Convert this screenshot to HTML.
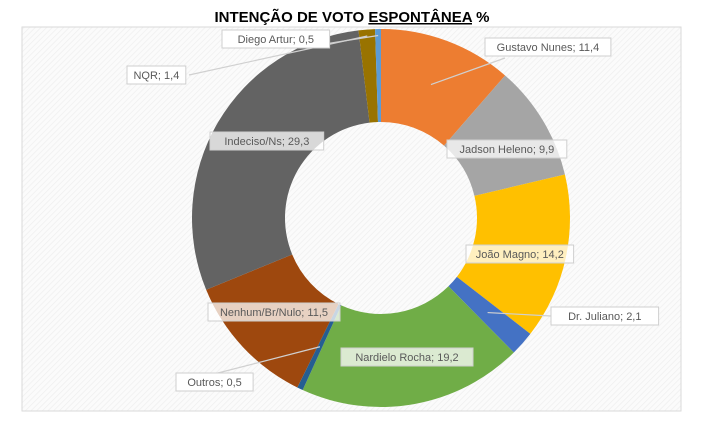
<!DOCTYPE html>
<html><head><meta charset="utf-8"><style>
body{margin:0;width:704px;height:428px;background:#fff;overflow:hidden;font-family:"Liberation Sans",sans-serif}
</style></head><body>
<svg width="704" height="428">
<defs><pattern id="hatch" width="4" height="4" patternUnits="userSpaceOnUse" patternTransform="rotate(45)"><rect width="4" height="4" fill="#fbfbfb"/><line x1="0" y1="0" x2="0" y2="4" stroke="#efefef" stroke-width="1.5"/></pattern></defs>
<rect x="22" y="27" width="659" height="384" fill="url(#hatch)" stroke="#d9d9d9"/>
<text x="352" y="22" text-anchor="middle" font-size="15" font-weight="bold" fill="#000">INTENÇÃO DE VOTO <tspan text-decoration="underline">ESPONTÂNEA</tspan>   %</text>
<g id="slices"></g>
<g id="labels"></g>
</svg>
<script>
const categories=["Gustavo Nunes","Jadson Heleno","João Magno","Dr. Juliano","Nardielo Rocha","Outros","Nenhum/Br/Nulo","Indeciso/Ns","NQR","Diego Artur"];
const values=[11.4,9.9,14.2,2.1,19.2,0.5,11.5,29.3,1.4,0.5];
const valueLabels=["11,4","9,9","14,2","2,1","19,2","0,5","11,5","29,3","1,4","0,5"];
const colors=["#ED7D31","#A5A5A5","#FFC000","#4472C4","#70AD47","#255E91","#9E480E","#636363","#997300","#5B9BD5"];
const cx=381,cy=218,R=189,r=96;
const NS="http://www.w3.org/2000/svg";
const total=values.reduce((a,b)=>a+b,0);
function pt(a,rad){return [cx+rad*Math.sin(a),cy-rad*Math.cos(a)];}
const gs=document.getElementById('slices'),gl=document.getElementById('labels');
let acc=0;const mids=[];
values.forEach((v,i)=>{
 const a0=acc/total*2*Math.PI;acc+=v;const a1=acc/total*2*Math.PI;
 mids.push((a0+a1)/2);
 const [x0,y0]=pt(a0,R),[x1,y1]=pt(a1,R),[x2,y2]=pt(a1,r),[x3,y3]=pt(a0,r);
 const lg=(a1-a0)>Math.PI?1:0;
 const p=document.createElementNS(NS,'path');
 p.setAttribute('d',`M${x0},${y0}A${R},${R} 0 ${lg} 1 ${x1},${y1}L${x2},${y2}A${r},${r} 0 ${lg} 0 ${x3},${y3}Z`);
 p.setAttribute('fill',colors[i]);
 
 
 gs.appendChild(p);
});
// label box positions (layout only)
const boxes=[[485,38,'o'],[447,140,'i'],[466,245,'i'],[551,307,'o'],[341,348,'i'],[176,373,'o'],[208,303,'i'],[210,132,'i'],[127,66,'o'],[222,30,'o']];
const leaderEnds=[[505,58],null,null,[551,316],null,[214,374],null,null,[189,75],[300,48]];
values.forEach((v,i)=>{
 const [bx,by,kind]=boxes[i];
 const txt=categories[i]+"; "+valueLabels[i];
 if(leaderEnds[i]){
  const [mx,my]=pt(mids[i],(R+r)/2+ (i===8||i===9?40:0));
  const l=document.createElementNS(NS,'line');
  l.setAttribute('x1',leaderEnds[i][0]);l.setAttribute('y1',leaderEnds[i][1]);
  l.setAttribute('x2',mx);l.setAttribute('y2',my);
  l.setAttribute('stroke','#d0d0d0');l.setAttribute('stroke-width','1.2');
  
  
  gl.appendChild(l);
 }
 const w=txt.length*6.1+10;
 const rect=document.createElementNS(NS,'rect');
 rect.setAttribute('x',bx);rect.setAttribute('y',by);rect.setAttribute('width',w);rect.setAttribute('height',18);
 rect.setAttribute('fill',kind==='o'?'#fff':'rgba(255,255,255,0.75)');
 rect.setAttribute('stroke','#cfcfcf');
 
 
 gl.appendChild(rect);
 const t=document.createElementNS(NS,'text');
 t.setAttribute('x',bx+w/2);t.setAttribute('y',by+13);t.setAttribute('text-anchor','middle');
 t.setAttribute('font-size','11');t.setAttribute('fill','#595959');
 t.textContent=txt;
 
 
 gl.appendChild(t);
});
</script>
</body></html>
